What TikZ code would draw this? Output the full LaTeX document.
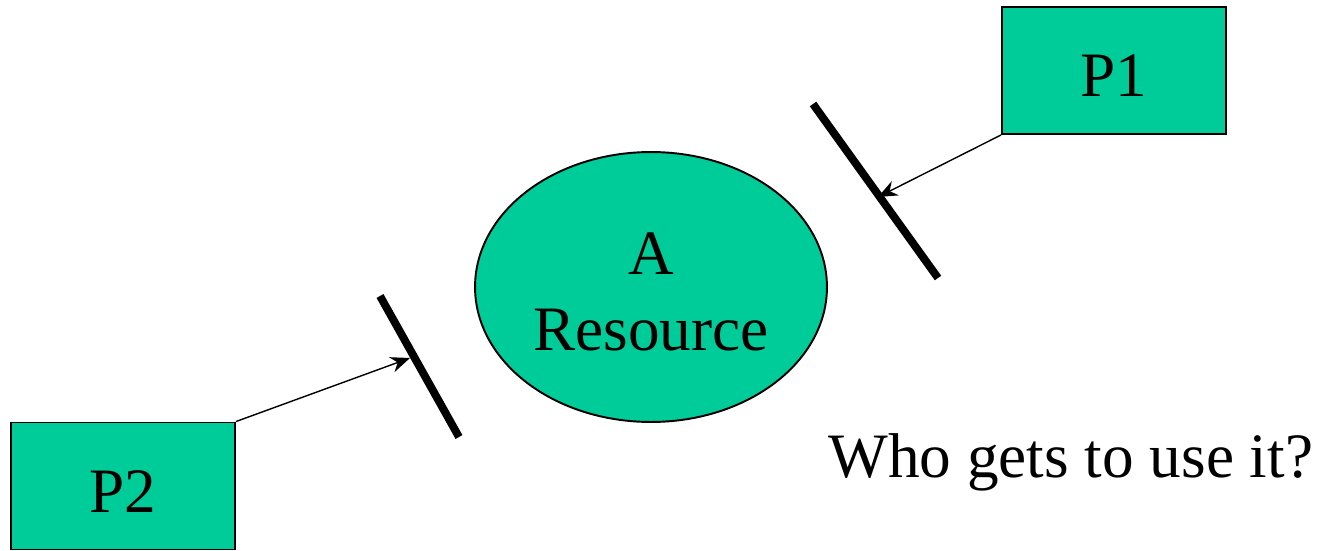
\documentclass[tikz,border=0pt]{standalone}
\usepackage{fontspec}
\setmainfont{Liberation Serif}
\definecolor{ProcGreen}{HTML}{00CC99}
\usetikzlibrary{shapes.geometric,arrows.meta,positioning}

\begin{document}
\begin{tikzpicture}[
  x=0.02cm, y=-0.02cm,
  proc/.style={
    rectangle, draw=black, line width=1.1pt,
    fill=ProcGreen, font=\fontsize{36}{43}\selectfont,
    minimum width=4.48cm, minimum height=2.54cm, inner sep=0pt,
    text height=30pt, text depth=0pt,
  },
  res/.style={
    ellipse, draw=black, line width=1.1pt,
    fill=ProcGreen, font=\fontsize{36}{43}\selectfont,
    minimum width=7.04cm, minimum height=5.4cm, inner sep=0pt, align=center,
  },
  gate/.style={line width=4.5pt},
  req/.style={-{Stealth[length=11pt,width=9pt]}, line width=0.8pt},
]
  \useasboundingbox (0,0) rectangle (1322,551);

  \node[proc] (p1)  at (1114,70.5) {P1};
  \node[proc] (p2)  at (123,486)   {P2};
  \node[res]  (res) at (651,287)   {\rule{0pt}{29.5pt}A\\Resource};

  % barriers in front of the resource
  \coordinate (g1a) at (813,104);
  \coordinate (g1b) at (938,278);
  \coordinate (g2a) at (380,296);
  \coordinate (g2b) at (459,437);
  \draw[gate] (g1a) -- (g1b);
  \draw[gate] (g2a) -- (g2b);
  \coordinate (hit1) at (878,197);
  \coordinate (hit2) at (410,358);

  \draw[req] (p1.south west) -- (hit1);
  \draw[req] (p2.north east) -- (hit2);

  \node[anchor=base west, inner sep=0pt, font=\fontsize{36}{43}\selectfont]
    (ask) at (828,477) {Who gets to use it?};
\end{tikzpicture}
\end{document}
